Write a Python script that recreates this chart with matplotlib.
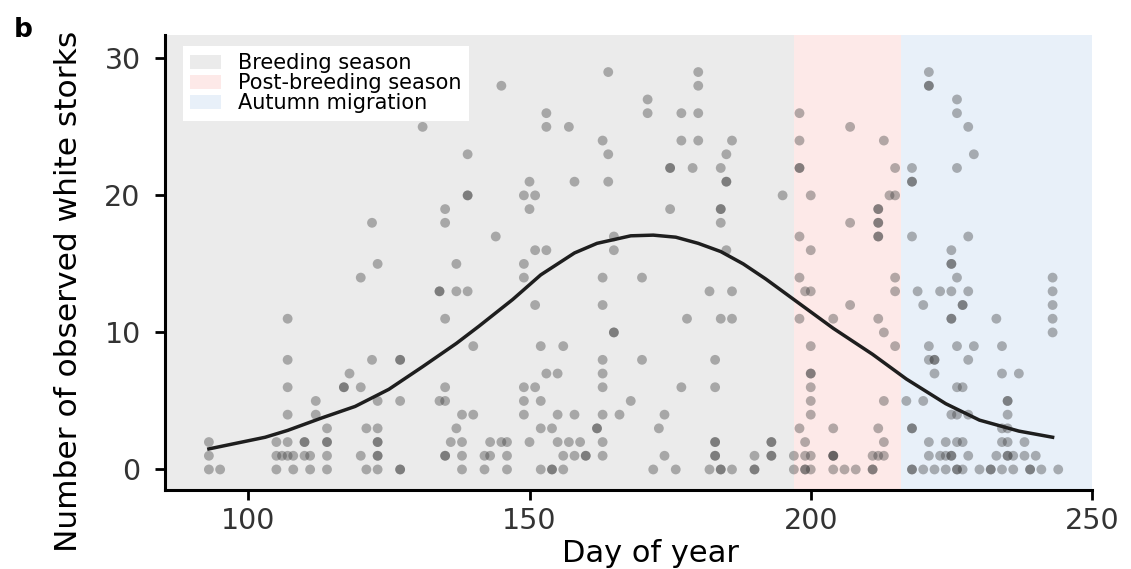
import matplotlib
matplotlib.use("Agg")
import matplotlib.pyplot as plt
from matplotlib.patches import Patch

days = [
    93, 93, 93, 95, 107, 107, 107, 107, 112, 112, 105, 107, 110, 110,
    105, 106, 107, 108, 110, 111, 105, 108, 111,
    123, 120, 134, 134, 137, 139, 137, 135, 140, 122, 127, 127, 118, 117, 117,
    120, 123, 127, 135, 135, 134, 138, 140, 114, 114, 114, 114, 114, 121, 123,
    123, 123, 120, 123, 123, 121, 123, 127, 127, 137, 136, 138, 135, 135, 138, 138,
    131, 139, 139, 139, 135, 135, 122, 145,
    164, 153, 153, 157, 163, 164, 164, 158, 150, 149, 151, 150, 144, 151, 153,
    165, 165, 149,
    149, 151, 163, 163, 165, 165, 168, 152, 156, 153, 155, 149, 151, 149, 152,
    149, 155, 158, 163, 163, 163, 163, 166, 162, 162, 152, 154, 143, 145, 146,
    142, 143, 146, 142, 146, 150, 155, 157, 159, 156, 158, 160, 160, 152, 154,
    154, 156, 163, 163,
    180, 180, 171, 171, 177, 180, 177, 180, 186, 185, 175, 175, 179, 184, 185,
    185, 195, 175, 184, 184, 184, 185,
    170, 182, 186, 178, 184, 186, 170, 183, 177, 183, 174, 173, 174, 172, 176,
    183, 183, 183, 183, 182, 184, 184, 186, 190, 193, 193, 193, 193, 190, 190,
    198, 198, 198, 198, 200, 207, 213, 215, 214, 215, 212, 212, 212, 212, 212,
    212, 207, 198, 200, 198, 215, 221, 221, 221, 226, 226, 228, 229, 218, 218,
    218, 226, 218, 228, 225, 225, 225, 226, 243,
    199, 200, 215, 219, 223, 225, 228, 243, 243, 243, 243, 220, 227, 227, 225,
    225, 233, 198, 204, 207, 212, 213, 200, 215, 221, 226, 229, 234, 221, 222,
    222, 228, 222, 234, 237, 226, 227, 200, 200, 200, 200, 200, 213, 217, 220,
    235, 235, 225, 226, 228, 235, 198, 204, 212, 218, 218, 234, 235, 199, 213,
    221, 224, 226, 227, 234, 235, 238,
    197, 199, 200, 204, 204, 204, 211, 212, 213, 221, 223, 224, 225, 225, 228,
    233, 235, 235, 236, 238, 240,
    197, 199, 199, 200, 204, 206, 208, 211, 211, 218, 218, 220, 222, 224, 226,
    226, 227, 230, 232, 232, 234, 236, 239, 239, 241, 244,
]
counts = [
    2, 1, 0, 0, 11, 8, 6, 4, 5, 4, 2, 2, 2, 2,
    1, 1, 1, 1, 1, 1, 0, 0, 0,
    15, 14, 13, 13, 13, 13, 15, 11, 9, 8, 8, 8, 7, 6, 6,
    6, 5, 5, 6, 5, 5, 4, 4, 3, 2, 2, 1, 0, 3, 3,
    2, 2, 1, 1, 1, 0, 0, 0, 0, 3, 2, 2, 1, 1, 1, 0,
    25, 23, 20, 20, 19, 18, 18, 28,
    29, 26, 25, 25, 24, 23, 21, 21, 21, 20, 20, 19, 17, 16, 16,
    17, 16, 15,
    14, 12, 14, 12, 10, 10, 5, 9, 9, 7, 7, 6, 6, 5, 5,
    4, 4, 4, 8, 7, 6, 4, 4, 3, 3, 3, 3, 2, 2, 2,
    1, 1, 1, 0, 0, 2, 2, 2, 2, 1, 1, 1, 1, 0, 0,
    0, 0, 2, 1,
    29, 28, 27, 26, 26, 26, 24, 24, 24, 23, 22, 22, 22, 22, 21,
    21, 20, 19, 19, 19, 18, 16,
    14, 13, 13, 11, 11, 11, 8, 8, 6, 6, 4, 3, 1, 0, 0,
    2, 2, 1, 1, 0, 0, 0, 0, 1, 2, 2, 1, 1, 0, 0,
    26, 24, 22, 22, 20, 25, 24, 22, 20, 20, 19, 19, 18, 18, 17,
    17, 18, 17, 16, 14, 14, 29, 28, 28, 27, 26, 25, 23, 22, 21,
    21, 22, 17, 17, 16, 15, 15, 14, 14,
    13, 13, 13, 13, 13, 13, 13, 13, 12, 11, 10, 12, 12, 12, 11,
    11, 11, 11, 11, 12, 11, 10, 9, 9, 9, 9, 9, 9, 8, 8,
    8, 8, 7, 7, 7, 6, 6, 7, 7, 6, 5, 4, 5, 5, 5,
    5, 5, 4, 4, 4, 4, 3, 3, 3, 3, 3, 3, 3, 2, 2,
    2, 2, 2, 2, 2, 2, 2,
    1, 1, 1, 1, 1, 1, 1, 1, 1, 1, 1, 1, 1, 1, 1,
    1, 1, 1, 1, 1, 1,
    0, 0, 0, 0, 0, 0, 0, 0, 0, 0, 0, 0, 0, 0, 0,
    0, 0, 0, 0, 0, 0, 0, 0, 0, 0, 0,
]

# fitted curve
fit_days = [93, 103, 107, 113, 119, 125, 131, 137, 141, 147, 152, 158, 162, 168,
            172, 176, 180, 184, 188, 192, 198, 204, 211, 217, 224, 230, 237, 243]
fit_vals = [1.5, 2.35, 2.85, 3.75, 4.6, 5.85, 7.5, 9.2, 10.45, 12.4, 14.2, 15.8, 16.5, 17.05,
            17.1, 16.95, 16.5, 15.9, 15.0, 13.9, 12.1, 10.3, 8.4, 6.6, 4.8, 3.6, 2.8, 2.35]

season_names = ["Breeding season", "Post-breeding season", "Autumn migration"]
season_bounds = [85.2, 197, 216, 250]
season_colors = ["#ebebeb", "#fde9e8", "#e8f0f9"]

fig = plt.figure(figsize=(11.31, 5.69), dpi=100)
ax = fig.add_axes([0.1459, 0.1388, 0.8196, 0.7996])

handles = []
for i, name in enumerate(season_names):
    ax.axvspan(season_bounds[i], season_bounds[i + 1], color=season_colors[i], lw=0, zorder=0)
    handles.append(Patch(facecolor=season_colors[i], edgecolor="none", label=name))

ax.scatter(days, counts, s=50, color="#3a3a3a", alpha=0.38, edgecolors="none", zorder=2)
ax.plot(fit_days, fit_vals, color="#1e1e1e", lw=2.5, zorder=3)

ax.set_xlim(season_bounds[0], season_bounds[-1])
ax.set_ylim(-1.5, 31.7)
ax.set_xticks([100, 150, 200, 250])
ax.set_yticks([0, 10, 20, 30])

for side in ["top", "right"]:
    ax.spines[side].set_visible(False)
for side in ["left", "bottom"]:
    ax.spines[side].set_linewidth(2.2)
ax.tick_params(axis="both", length=7.5, width=2.0, labelsize=20.5, labelcolor="#333333")
ax.tick_params(axis="y", pad=10)
ax.tick_params(axis="x", pad=5)

ax.set_xlabel("Day of year", fontsize=22)
ax.set_ylabel("Number of observed white storks", fontsize=22.5)
ax.xaxis.set_label_coords(0.524, -0.108)
ax.yaxis.set_label_coords(-0.088, 0.437)

leg = ax.legend(handles=handles, loc="upper left", bbox_to_anchor=(0.019, 0.976),
                borderaxespad=0, fontsize=15, frameon=True, fancybox=False,
                handlelength=1.5, handleheight=0.65, handletextpad=0.8,
                labelspacing=0.0, borderpad=0.35)
leg.get_frame().set_facecolor("white")
leg.get_frame().set_edgecolor("none")
leg.get_frame().set_alpha(1)

fig.text(0.012, 0.935, "b", fontsize=19, fontweight="bold", va="baseline")

fig.savefig("out.png", dpi=100, facecolor="white")
